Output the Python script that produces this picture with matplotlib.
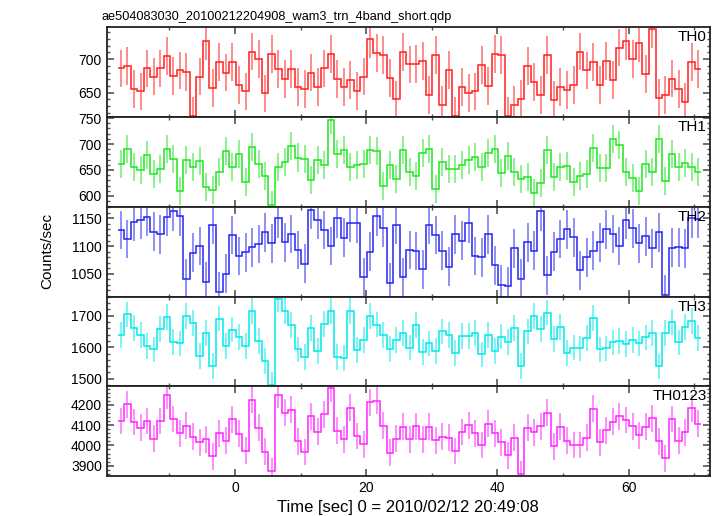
import numpy as np
import matplotlib
matplotlib.use("Agg")
import matplotlib.pyplot as plt
from matplotlib.ticker import MultipleLocator

# light curve data, 1 s bins
t_start = -17.4
bin_width = 1.0

th0 = [686, 690, 655, 652, 686, 674, 686, 704, 675, 683, 681, 616, 674, 727, 657,
       696, 680, 695, 661, 652, 711, 700, 649, 707, 685, 670, 685, 659, 655, 680,
       659, 686, 707, 670, 658, 669, 653, 674, 729, 709, 706, 672, 640, 710, 692,
       693, 697, 647, 706, 632, 684, 616, 658, 650, 652, 691, 660, 707, 706, 616,
       632, 641, 690, 666, 647, 706, 639, 659, 654, 662, 711, 683, 695, 661, 697,
       669, 717, 726, 700, 723, 678, 744, 642, 647, 671, 655, 636, 696, 685]
th1 = [661, 691, 656, 650, 679, 642, 652, 691, 672, 610, 670, 655, 668, 618, 611,
       646, 687, 655, 680, 626, 695, 662, 639, 582, 655, 666, 697, 674, 671, 630,
       670, 660, 746, 680, 689, 655, 659, 661, 689, 686, 620, 660, 632, 689, 646,
       638, 683, 691, 613, 666, 651, 651, 659, 669, 675, 656, 683, 691, 645, 676,
       646, 632, 637, 606, 624, 689, 637, 655, 657, 626, 639, 643, 693, 654, 653,
       710, 699, 646, 634, 610, 661, 646, 710, 629, 680, 655, 664, 656, 646]
th2 = [1129, 1113, 1144, 1147, 1153, 1126, 1121, 1153, 1163, 1154, 1041, 1088, 1100, 1036, 1139,
       1018, 1050, 1120, 1082, 1089, 1098, 1104, 1125, 1105, 1150, 1107, 1122, 1093, 1068, 1166,
       1148, 1129, 1100, 1150, 1115, 1142, 1141, 1044, 1090, 1154, 1133, 1034, 1138, 1044, 1093,
       1091, 1058, 1139, 1120, 1092, 1063, 1121, 1110, 1141, 1082, 1080, 1121, 1065, 1030, 1028,
       1096, 1041, 1107, 1092, 1163, 1047, 1090, 1113, 1130, 1116, 1056, 1080, 1092, 1107, 1130,
       1122, 1100, 1148, 1132, 1105, 1118, 1096, 1125, 1012, 1097, 1098, 1096, 1150, 1149]
th3 = [1640, 1704, 1660, 1638, 1603, 1593, 1658, 1696, 1617, 1612, 1699, 1678, 1573, 1646, 1540,
       1691, 1605, 1656, 1633, 1605, 1714, 1621, 1556, 1480, 1753, 1716, 1670, 1593, 1570, 1662,
       1589, 1673, 1716, 1569, 1567, 1714, 1591, 1623, 1699, 1672, 1638, 1595, 1624, 1644, 1599,
       1671, 1586, 1612, 1588, 1650, 1640, 1582, 1635, 1635, 1644, 1577, 1639, 1589, 1634, 1617,
       1660, 1541, 1650, 1699, 1657, 1710, 1625, 1663, 1582, 1599, 1596, 1630, 1694, 1593, 1596,
       1615, 1620, 1610, 1622, 1612, 1631, 1646, 1539, 1644, 1679, 1615, 1665, 1684, 1628]
th0123 = [4120, 4203, 4116, 4088, 4121, 4034, 4121, 4247, 4131, 4059, 4097, 4043, 4015, 4030, 3946,
          4059, 4023, 4128, 4057, 3974, 4225, 4088, 3969, 3872, 4251, 4162, 4177, 4021, 3967, 4143,
          4067, 4154, 4282, 4072, 4031, 4187, 4046, 4005, 4212, 4221, 4098, 3964, 4034, 4092, 4030,
          4095, 4030, 4092, 4025, 4043, 4038, 3972, 4066, 4100, 4059, 4002, 4107, 4059, 4016, 3951,
          4038, 3857, 4088, 4064, 4095, 4162, 3995, 4092, 4023, 4002, 4002, 4039, 4182, 4016, 4075,
          4118, 4144, 4125, 4095, 4049, 4092, 4134, 4020, 3936, 4131, 4023, 4064, 4184, 4108]

# typical 1-sigma error per band
errors = [28, 27, 35, 41, 66]

band_names = ["TH0", "TH1", "TH2", "TH3", "TH0123"]
band_data = [th0, th1, th2, th3, th0123]
colors = ["#ff1f1f", "#1fe61f", "#2424ee", "#00eaea", "#ff24ff"]
ylims = [(614, 747), (579, 752), (1009, 1171), (1476, 1761), (3849, 4292)]
yticks = [[650, 700], [600, 650, 700, 750], [1050, 1100, 1150],
          [1500, 1600, 1700], [3900, 4000, 4100, 4200]]
yminor = [10, 10, 10, 20, 20]

plt.rcParams["font.family"] = ["Liberation Sans", "DejaVu Sans"]
fsize = 10

fig = plt.figure(figsize=(7.17, 5.16), dpi=100)
left, right = 106.7 / 717, 710 / 717
top, bottom = 1 - 27.3 / 516, 1 - 476 / 516
h = (top - bottom) / 5

axes = []
for i in range(5):
    ax = fig.add_axes([left, top - (i + 1) * h, right - left, h])
    axes.append(ax)
    vals = np.array(band_data[i], dtype=float)
    n = len(vals)
    edges = t_start - bin_width / 2 + bin_width * np.arange(n + 1)
    centers = t_start + bin_width * np.arange(n)
    ax.errorbar(centers, vals, yerr=errors[i], fmt="none", ecolor=colors[i],
                elinewidth=1.1, alpha=0.65, capsize=0)
    ax.stairs(vals, edges, baseline=None, color=colors[i], lw=1.1)

    ax.set_xlim(-19.56, 72.4)
    ax.set_ylim(*ylims[i])
    ax.set_yticks(yticks[i])
    ax.yaxis.set_minor_locator(MultipleLocator(yminor[i]))
    ax.xaxis.set_major_locator(MultipleLocator(20))
    ax.xaxis.set_minor_locator(MultipleLocator(10))
    ax.tick_params(which="both", direction="in", top=True, right=True,
                   color="#555555", labelsize=fsize)
    ax.tick_params(which="major", length=5, width=1.2)
    ax.tick_params(which="minor", length=2.5, width=1.0)
    for s in ax.spines.values():
        s.set_linewidth(1.3)
        s.set_color("#222222")
    if i < 4:
        ax.tick_params(labelbottom=False)
    ax.text(0.995, 0.965, band_names[i], transform=ax.transAxes, ha="right",
            va="top", fontsize=fsize + 1)

axes[0].set_title("ae504083030_20100212204908_wam3_trn_4band_short.qdp",
                  loc="left", fontsize=9.2, pad=5, x=-0.008)
axes[4].set_xlabel("Time [sec] 0 = 2010/02/12 20:49:08", fontsize=12, labelpad=4)
fig.text(47 / 717, 1 - 251 / 516, "Counts/sec", rotation=90, ha="center",
         va="center", fontsize=fsize + 1)

fig.savefig("out.png", dpi=100)
